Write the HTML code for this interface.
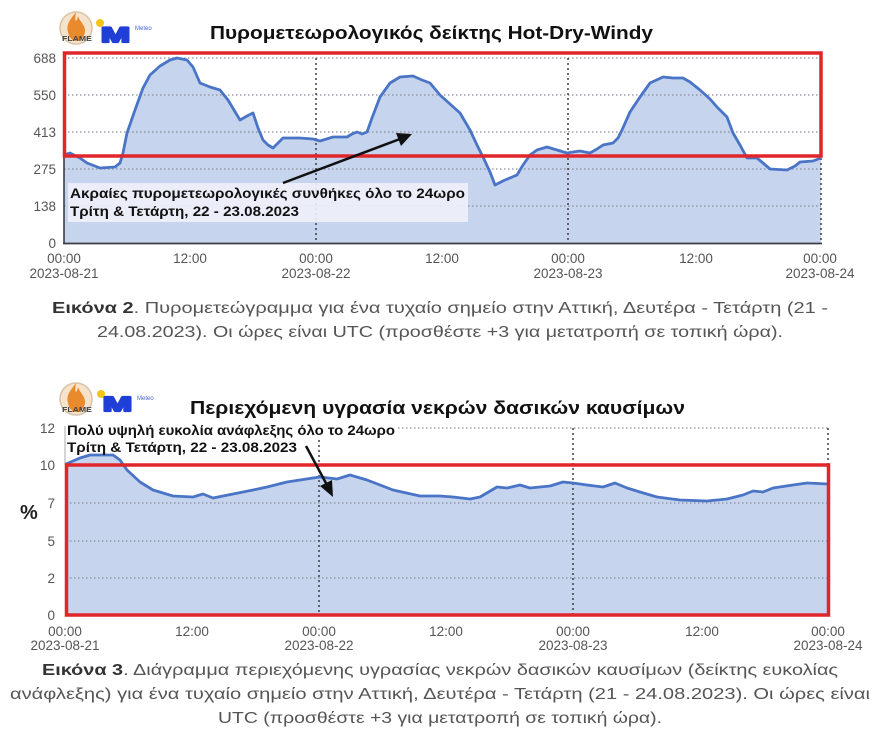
<!DOCTYPE html>
<html><head><meta charset="utf-8"><style>
html,body{margin:0;padding:0;background:#fff;}
svg{display:block;}
text{font-family:"Liberation Sans","Noto Sans CJK SC",sans-serif;}
</style></head><body>
<svg width="880" height="753" viewBox="0 0 880 753" xmlns="http://www.w3.org/2000/svg">
<rect x="0" y="0" width="880" height="753" fill="#fff"/>

<!-- ===== TOP LOGOS ===== -->
<circle cx="76" cy="28" r="16" fill="#f6e3cc" stroke="#d9c2a8" stroke-width="1.5"/>
<path d="M76 12 C70 20 66 24 68 32 C69 38 73 41 76 41 C80 41 84 38 85 32 C86 26 80 22 78 16 C77 22 74 24 76 12 Z" fill="#e98a2c"/>
<text x="62" y="41" font-size="7" font-weight="bold" fill="#444" textLength="30" lengthAdjust="spacingAndGlyphs">FLAME</text>
<circle cx="100" cy="23" r="4" fill="#f5c518"/>
<text x="101" y="42" font-size="21" font-weight="bold" fill="#1f3fd6" stroke="#1f3fd6" stroke-width="2.2" stroke-linejoin="round" textLength="29" lengthAdjust="spacingAndGlyphs">M</text>
<text x="135" y="30" font-size="6" fill="#4a66d9">Meteo</text>

<text x="210" y="39" font-size="18" font-weight="bold" fill="#111" textLength="443" lengthAdjust="spacingAndGlyphs">Πυρομετεωρολογικός δείκτης Hot-Dry-Windy</text>

<!-- ===== TOP CHART ===== -->
<path d="M64,243 L64,155 L70,153 L80,158 L87,163 L100,168 L115,167 L120,163 L123,153 L127,133 L135,110 L143,88 L150,75 L160,66 L170,60 L177,58 L187,60 L193,67 L200,83 L210,87 L220,90 L228,100 L240,120 L247,116 L253,113 L258,128 L263,140 L268,145 L273,148 L278,143 L283,138 L300,138 L313,139 L320,141 L333,137 L347,137 L352,134 L357,132 L362,134 L367,132 L372,118 L380,97 L390,83 L400,77 L413,76 L422,80 L430,83 L440,95 L450,104 L460,113 L470,130 L477,145 L483,157 L490,172 L495,185 L505,180 L517,175 L523,165 L530,155 L537,150 L547,147 L557,150 L567,153 L573,152 L580,151 L590,153 L597,149 L603,145 L613,143 L618,138 L622,130 L630,112 L640,97 L650,83 L663,77 L673,78 L683,78 L690,82 L700,90 L710,99 L717,107 L727,117 L733,133 L740,145 L747,158 L757,158 L763,163 L770,169 L787,170 L795,166 L800,162 L813,161 L821,158 L821,243 Z" fill="#c6d4ee"/>

<g stroke="#8a8f9a" stroke-width="1.2" stroke-dasharray="1.5 2.5" fill="none">
<line x1="64" y1="58" x2="821" y2="58"/>
<line x1="64" y1="95" x2="821" y2="95"/>
<line x1="64" y1="132" x2="821" y2="132"/>
<line x1="64" y1="169" x2="821" y2="169"/>
<line x1="64" y1="206" x2="821" y2="206"/>
</g>
<g stroke="#333" stroke-width="1.4" stroke-dasharray="2 3" fill="none">
<line x1="316" y1="58" x2="316" y2="243"/>
<line x1="568" y1="58" x2="568" y2="243"/>
<line x1="821" y1="58" x2="821" y2="243"/>
</g>

<path d="M64,155 L70,153 L80,158 L87,163 L100,168 L115,167 L120,163 L123,153 L127,133 L135,110 L143,88 L150,75 L160,66 L170,60 L177,58 L187,60 L193,67 L200,83 L210,87 L220,90 L228,100 L240,120 L247,116 L253,113 L258,128 L263,140 L268,145 L273,148 L278,143 L283,138 L300,138 L313,139 L320,141 L333,137 L347,137 L352,134 L357,132 L362,134 L367,132 L372,118 L380,97 L390,83 L400,77 L413,76 L422,80 L430,83 L440,95 L450,104 L460,113 L470,130 L477,145 L483,157 L490,172 L495,185 L505,180 L517,175 L523,165 L530,155 L537,150 L547,147 L557,150 L567,153 L573,152 L580,151 L590,153 L597,149 L603,145 L613,143 L618,138 L622,130 L630,112 L640,97 L650,83 L663,77 L673,78 L683,78 L690,82 L700,90 L710,99 L717,107 L727,117 L733,133 L740,145 L747,158 L757,158 L763,163 L770,169 L787,170 L795,166 L800,162 L813,161 L821,158" fill="none" stroke="#4a74c5" stroke-width="2.8" stroke-linejoin="round"/>

<line x1="64" y1="57" x2="64" y2="244" stroke="#333" stroke-width="1.5"/>
<line x1="63" y1="243.5" x2="822" y2="243.5" stroke="#3a3f4a" stroke-width="1.8"/>

<rect x="64.5" y="53" width="756.5" height="103" fill="none" stroke="#e0262b" stroke-width="3.5"/>

<!-- annotation box top -->
<rect x="68" y="183" width="400" height="39" fill="#eef1f9" opacity="0.9"/>
<text x="70" y="198" font-size="14" font-weight="bold" fill="#111" textLength="395" lengthAdjust="spacingAndGlyphs">Ακραίες πυρομετεωρολογικές συνθήκες όλο το 24ωρο</text>
<text x="70" y="216" font-size="14" font-weight="bold" fill="#111" textLength="229" lengthAdjust="spacingAndGlyphs">Τρίτη &amp; Τετάρτη, 22 - 23.08.2023</text>
<line x1="283" y1="183" x2="400" y2="139" stroke="#111" stroke-width="2.5"/>
<polygon points="412,134 396,133 401,146" fill="#111"/>

<!-- top y labels -->
<g font-size="13.5" fill="#555" text-anchor="end">
<text x="56" y="63">688</text>
<text x="56" y="100">550</text>
<text x="56" y="137">413</text>
<text x="56" y="174">275</text>
<text x="56" y="211">138</text>
<text x="56" y="248">0</text>
</g>
<!-- top x labels -->
<g font-size="13.5" fill="#555" text-anchor="middle">
<text x="64" y="263">00:00</text>
<text x="64" y="278">2023-08-21</text>
<text x="190" y="263">12:00</text>
<text x="316" y="263">00:00</text>
<text x="316" y="278">2023-08-22</text>
<text x="442" y="263">12:00</text>
<text x="568" y="263">00:00</text>
<text x="568" y="278">2023-08-23</text>
<text x="696" y="263">12:00</text>
<text x="820" y="263">00:00</text>
<text x="820" y="278">2023-08-24</text>
</g>

<!-- caption 2 -->
<text x="52" y="313" font-size="16" fill="#555" textLength="776" lengthAdjust="spacingAndGlyphs"><tspan font-weight="bold" fill="#333">Εικόνα 2</tspan>. Πυρομετεώγραμμα για ένα τυχαίο σημείο στην Αττική, Δευτέρα - Τετάρτη (21 -</text>
<text x="97" y="337" font-size="16" fill="#555" textLength="686" lengthAdjust="spacingAndGlyphs">24.08.2023). Οι ώρες είναι UTC (προσθέστε +3 για μετατροπή σε τοπική ώρα).</text>

<!-- ===== BOTTOM LOGOS ===== -->
<circle cx="76" cy="399" r="16" fill="#f6e3cc" stroke="#d9c2a8" stroke-width="1.5"/>
<path d="M76 383 C70 391 66 395 68 403 C69 409 73 412 76 412 C80 412 84 409 85 403 C86 397 80 393 78 387 C77 393 74 395 76 383 Z" fill="#e98a2c"/>
<text x="62" y="412" font-size="7" font-weight="bold" fill="#444" textLength="30" lengthAdjust="spacingAndGlyphs">FLAME</text>
<circle cx="101" cy="394" r="4" fill="#f5c518"/>
<text x="103" y="411" font-size="20" font-weight="bold" fill="#1f3fd6" stroke="#1f3fd6" stroke-width="2.2" stroke-linejoin="round" textLength="29" lengthAdjust="spacingAndGlyphs">M</text>
<text x="137" y="400" font-size="6" fill="#4a66d9">Meteo</text>

<text x="190" y="414" font-size="18" font-weight="bold" fill="#111" textLength="495" lengthAdjust="spacingAndGlyphs">Περιεχόμενη υγρασία νεκρών δασικών καυσίμων</text>

<!-- ===== BOTTOM CHART ===== -->
<path d="M66,615 L66,464 L80,458 L90,455 L113,455 L120,460 L127,470 L140,482 L153,490 L173,496 L193,497 L203,494 L213,498 L233,494 L253,490 L267,487 L287,482 L300,480 L313,478 L320,477 L337,479 L350,475 L367,480 L393,490 L420,496 L440,496 L453,497 L470,499 L480,497 L497,487 L507,488 L520,485 L530,488 L550,486 L563,482 L573,483 L587,485 L603,487 L615,483 L627,488 L640,492 L657,497 L680,500 L707,501 L727,499 L743,495 L753,491 L763,492 L773,488 L793,485 L807,483 L828,484 L828,615 Z" fill="#c6d4ee"/>

<g stroke="#8a8f9a" stroke-width="1.2" stroke-dasharray="1.5 2.5" fill="none">
<line x1="398" y1="428" x2="828" y2="428"/>
<line x1="66" y1="503" x2="828" y2="503"/>
<line x1="66" y1="541" x2="828" y2="541"/>
<line x1="66" y1="578" x2="828" y2="578"/>
</g>
<g stroke="#333" stroke-width="1.4" stroke-dasharray="2 3" fill="none">
<line x1="319" y1="440" x2="319" y2="615"/>
<line x1="573" y1="428" x2="573" y2="615"/>
<line x1="828" y1="428" x2="828" y2="464"/>
</g>
<line x1="65" y1="426" x2="65" y2="465" stroke="#aaa" stroke-width="1"/>

<path d="M66,464 L80,458 L90,455 L113,455 L120,460 L127,470 L140,482 L153,490 L173,496 L193,497 L203,494 L213,498 L233,494 L253,490 L267,487 L287,482 L300,480 L313,478 L320,477 L337,479 L350,475 L367,480 L393,490 L420,496 L440,496 L453,497 L470,499 L480,497 L497,487 L507,488 L520,485 L530,488 L550,486 L563,482 L573,483 L587,485 L603,487 L615,483 L627,488 L640,492 L657,497 L680,500 L707,501 L727,499 L743,495 L753,491 L763,492 L773,488 L793,485 L807,483 L828,484" fill="none" stroke="#4a74c5" stroke-width="2.8" stroke-linejoin="round"/>

<rect x="66.5" y="465" width="762" height="150" fill="none" stroke="#e0262b" stroke-width="3.5"/>

<text x="67" y="435" font-size="14" font-weight="bold" fill="#111" textLength="328" lengthAdjust="spacingAndGlyphs">Πολύ υψηλή ευκολία ανάφλεξης όλο το 24ωρο</text>
<text x="67" y="452" font-size="14" font-weight="bold" fill="#111" textLength="230" lengthAdjust="spacingAndGlyphs">Τρίτη &amp; Τετάρτη, 22 - 23.08.2023</text>
<line x1="306" y1="446" x2="327" y2="485" stroke="#111" stroke-width="2.5"/>
<polygon points="333,497 320,486 332,480" fill="#111"/>

<text x="20" y="519" font-size="20" font-weight="bold" fill="#222">%</text>
<g font-size="13.5" fill="#555" text-anchor="end">
<text x="55" y="433">12</text>
<text x="55" y="470">10</text>
<text x="55" y="508">7</text>
<text x="55" y="546">5</text>
<text x="55" y="583">2</text>
<text x="55" y="620">0</text>
</g>
<g font-size="13.5" fill="#555" text-anchor="middle">
<text x="65" y="636">00:00</text>
<text x="65" y="650">2023-08-21</text>
<text x="192" y="636">12:00</text>
<text x="319" y="636">00:00</text>
<text x="319" y="650">2023-08-22</text>
<text x="446" y="636">12:00</text>
<text x="573" y="636">00:00</text>
<text x="573" y="650">2023-08-23</text>
<text x="702" y="636">12:00</text>
<text x="828" y="636">00:00</text>
<text x="828" y="650">2023-08-24</text>
</g>

<!-- caption 3 -->
<text x="42" y="675" font-size="16" fill="#555" textLength="796" lengthAdjust="spacingAndGlyphs"><tspan font-weight="bold" fill="#333">Εικόνα 3</tspan>. Διάγραμμα περιεχόμενης υγρασίας νεκρών δασικών καυσίμων (δείκτης ευκολίας</text>
<text x="10" y="699" font-size="16" fill="#555" textLength="860" lengthAdjust="spacingAndGlyphs">ανάφλεξης) για ένα τυχαίο σημείο στην Αττική, Δευτέρα - Τετάρτη (21 - 24.08.2023). Οι ώρες είναι</text>
<text x="218" y="723" font-size="16" fill="#555" textLength="444" lengthAdjust="spacingAndGlyphs">UTC (προσθέστε +3 για μετατροπή σε τοπική ώρα).</text>
</svg>
</body></html>
